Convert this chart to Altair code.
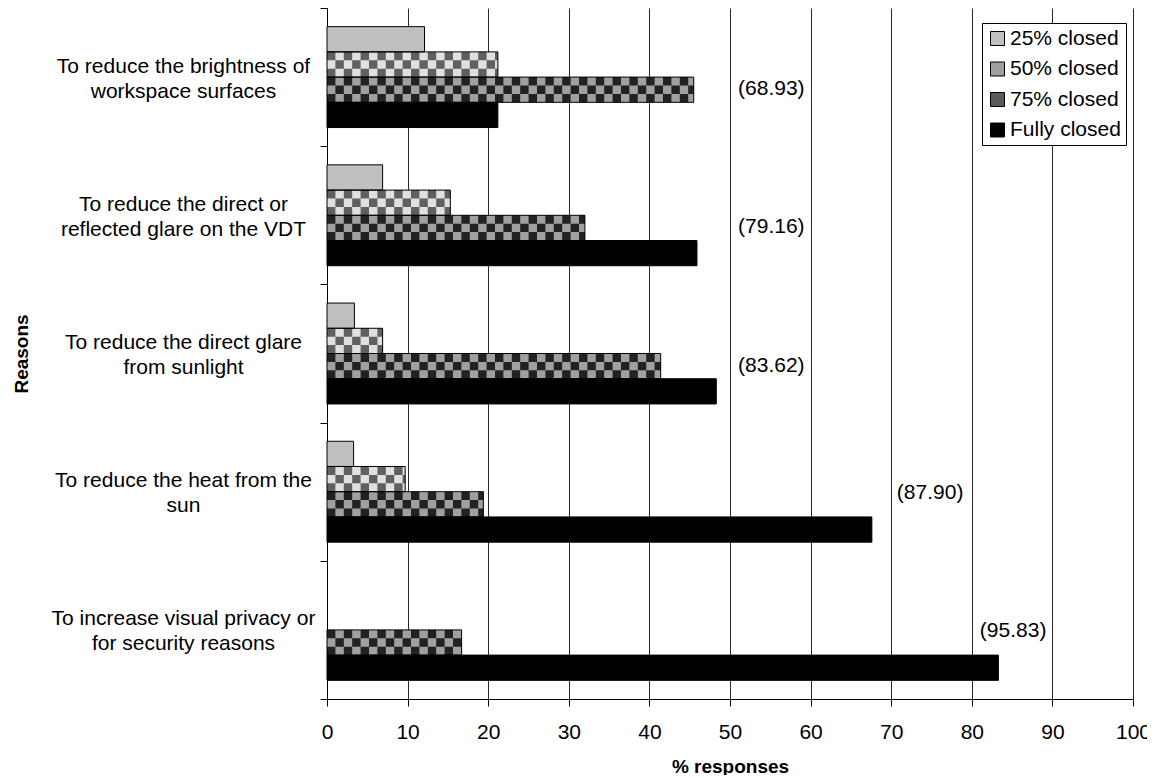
import altair as alt
import pandas as pd

# ---------------- data ----------------
categories = [
    "To reduce the brightness of|workspace surfaces",
    "To reduce the direct or|reflected glare on the VDT",
    "To reduce the direct glare|from sunlight",
    "To reduce the heat from the|sun",
    "To increase visual privacy or|for security reasons",
]
series = ["25% closed", "50% closed", "75% closed", "Fully closed"]
closed_25 = [12.1, 6.9, 3.4, 3.3, 0.0]
closed_50 = [21.2, 15.3, 6.9, 9.7, 0.0]
closed_75 = [45.5, 32.0, 41.4, 19.4, 16.7]
closed_full = [21.2, 45.9, 48.3, 67.6, 83.3]
total_labels = ["(68.93)", "(79.16)", "(83.62)", "(87.90)", "(95.83)"]
total_label_x = [51.0, 51.0, 51.0, 70.7, 81.0]
x_ticks = [0, 10, 20, 30, 40, 50, 60, 70, 80, 90, 100]

fill_colors = ["#c0c0c0", "#e0e0e0", "#a0a0a0", "#000000"]
check_colors = ["#606060", "#222222"]
legend_colors = ["#c0c0c0", "#a0a0a0", "#5a5a5a", "#000000"]

# ---------------- tables ----------------
values_by_series = [closed_25, closed_50, closed_75, closed_full]
rows = []
for s, vals in zip(series, values_by_series):
    for c, v in zip(categories, vals):
        if v > 0:
            rows.append({"category": c, "series": s, "value": v, "start": 0.0})
bars = pd.DataFrame(rows)

checked = ["50% closed", "75% closed"]
subrows = [f"{s}|{r}" for s in series for r in (1, 2, 3)]
sub_domain = ["pad1", "pad2"] + subrows + ["pad3", "pad4"]
crows = []
for r in rows:
    if r["series"] in checked:
        for k in (1, 2, 3):
            crows.append({**r, "subrow": f"{r['series']}|{k}",
                          "parity": "a" if k % 2 else "b"})
checks = pd.DataFrame(crows)

notes = pd.DataFrame({"category": categories, "text": total_labels, "tx": total_label_x})
notes_a = notes.iloc[:3]
notes_b = notes.iloc[3:]

FONT = "Liberation Sans"
GROUP = 0.73  # share of each category band filled by its bars
po_series = (len(series) / GROUP - len(series)) / 2
po_sub = (len(subrows) / GROUP - len(sub_domain)) / 2

x_axis = alt.Axis(
    values=x_ticks, title="% responses", titleFontSize=19, titleFontWeight="bold",
    titleBaseline="alphabetic", titleY=73, titleColor="black",
    labelFontSize=21, labelBaseline="alphabetic", labelPadding=32, labelFlush=False,
    labelOverlap=False, labelColor="black", tickSize=7, tickColor="black",
    domainColor="black", grid=True, gridColor="#2a2a2a", gridWidth=1,
)
y_axis = alt.Axis(
    title="Reasons", titleFontSize=19, titleFontWeight="bold", titleAngle=270,
    titleX=-300, titleY=345.5, titleAlign="center", titleBaseline="alphabetic",
    titleColor="black",
    labelExpr="split(datum.label, '|')", labelFontSize=21, labelAlign="center",
    labelBaseline="middle", labelLineHeight=25, labelPadding=137, labelLimit=400,
    labelOffset=-11, labelColor="black", tickBand="extent", tickSize=7,
    tickColor="black", domainColor="black", grid=False,
)
x_scale = alt.Scale(domain=[0, 100], nice=False)
y_enc = alt.Y("category:N", sort=categories, axis=y_axis,
              scale=alt.Scale(paddingInner=0, paddingOuter=0))
series_offset = alt.YOffset("series:N", sort=series,
                            scale=alt.Scale(domain=series, paddingInner=0,
                                            paddingOuter=po_series))

base_fill = alt.Chart(bars).mark_bar().encode(
    x=alt.X("value:Q", scale=x_scale, axis=x_axis),
    y=y_enc,
    yOffset=series_offset,
    color=alt.Color("series:N", scale=alt.Scale(domain=series, range=fill_colors), legend=None),
)

check_layer = alt.Chart(checks).mark_rule(strokeWidth=8.41, strokeCap="butt").encode(
    x=alt.X("start:Q", scale=x_scale, axis=x_axis),
    x2="value:Q",
    y=y_enc,
    yOffset=alt.YOffset("subrow:N", sort=sub_domain,
                        scale=alt.Scale(domain=sub_domain, paddingInner=0, paddingOuter=po_sub)),
    color=alt.Color("series:N", scale=alt.Scale(domain=checked, range=check_colors), legend=None),
    strokeDash=alt.StrokeDash("parity:N", scale=alt.Scale(domain=["a", "b"],
                              range=[[8.4, 8.4], [0, 8.4, 8.4, 0]]), legend=None),
)

outline = alt.Chart(bars).mark_bar(fillOpacity=0, stroke="black", strokeWidth=1).encode(
    x=alt.X("value:Q", scale=x_scale, axis=x_axis),
    y=y_enc,
    yOffset=series_offset,
)

text_a = alt.Chart(notes_a).mark_text(align="left", baseline="middle", fontSize=21,
                                      font=FONT, color="black", dy=12).encode(
    x=alt.X("tx:Q", scale=x_scale, axis=x_axis), y=y_enc, text="text:N")
text_b = alt.Chart(notes_b).mark_text(align="left", baseline="middle", fontSize=21,
                                      font=FONT, color="black", dy=1).encode(
    x=alt.X("tx:Q", scale=x_scale, axis=x_axis), y=y_enc, text="text:N")

legend_layer = alt.Chart(pd.DataFrame({"series": series})).mark_square(
    opacity=1, size=196).encode(
    color=alt.Color("series:N", sort=series,
                    scale=alt.Scale(domain=series, range=legend_colors),
                    legend=alt.Legend(
                        orient="none", legendX=655, legendY=15, title=None,
                        labelFontSize=21, labelFont=FONT, labelColor="black",
                        symbolType="square", symbolSize=196, symbolStrokeColor="black",
                        symbolStrokeWidth=1, symbolOpacity=1, fillColor="white",
                        strokeColor="black", padding=5, rowPadding=8.5, labelOffset=2,
                    )),
).transform_filter("false")

chart = alt.layer(base_fill, check_layer, outline, text_a, text_b, legend_layer).resolve_scale(
    color="independent", yOffset="independent", strokeDash="independent"
).properties(
    width=806, height=691,
    autosize=alt.AutoSizeParams(type="none"),
    padding={"left": 319, "top": 0, "right": 14, "bottom": 76},
).configure(font=FONT).configure_view(stroke=None)

chart.save("out.html", embed_options={"renderer": "svg", "actions": False})
